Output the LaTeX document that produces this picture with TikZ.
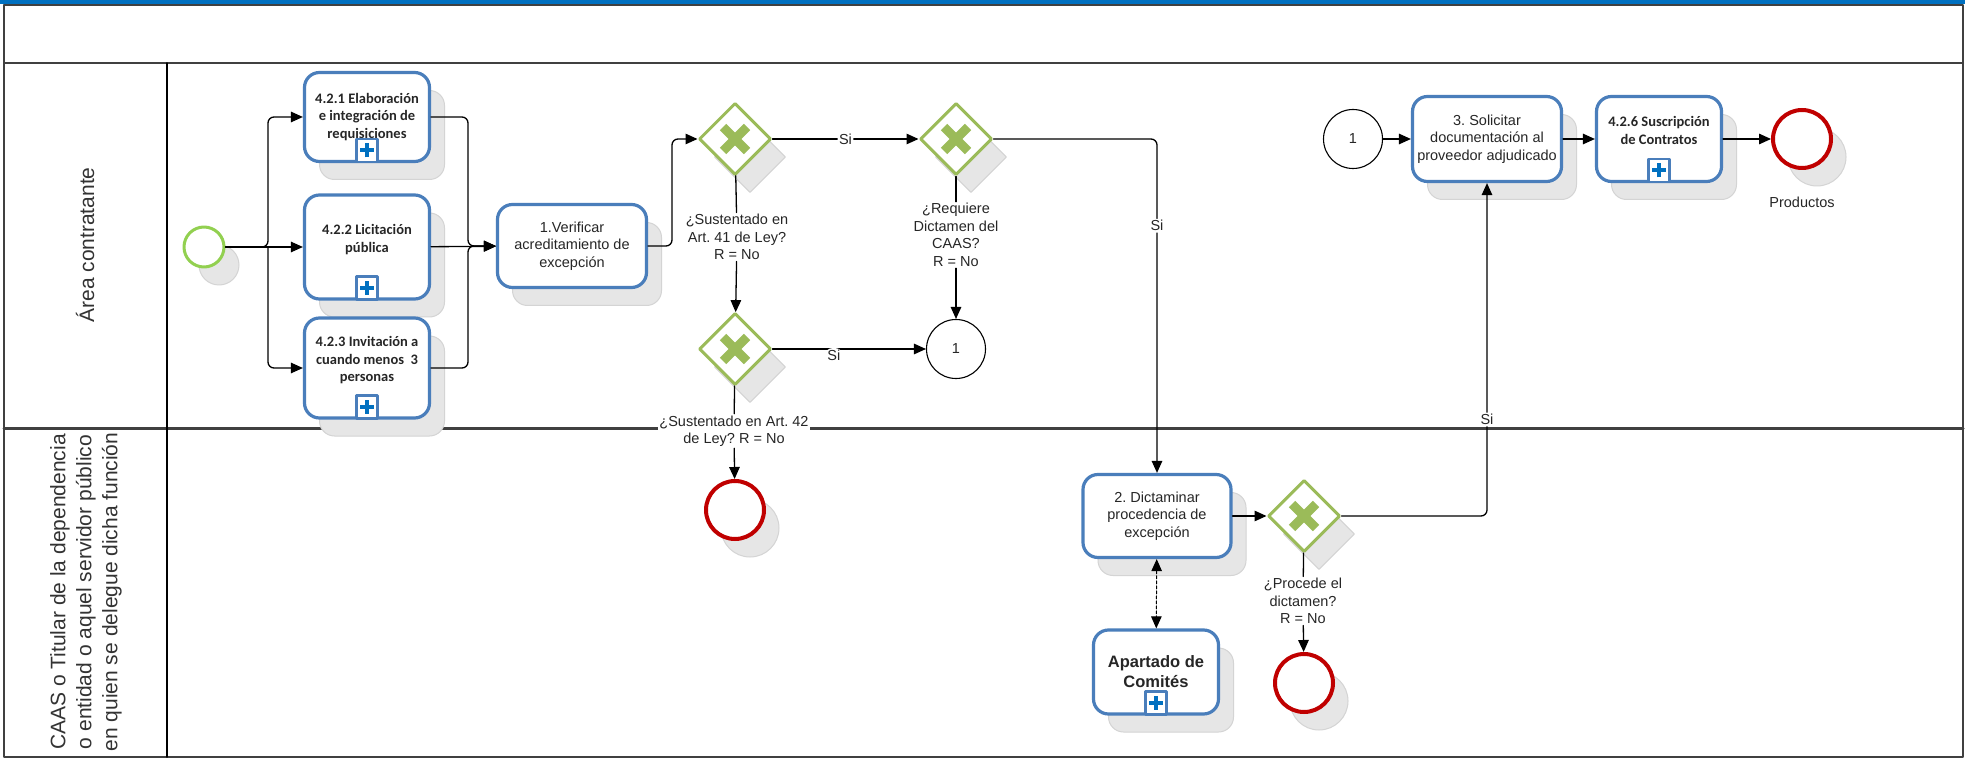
\documentclass[tikz,border=0pt]{standalone}
\usepackage{fontspec}
\setmainfont{Liberation Sans}
\newfontfamily\carlito{Carlito}
\frenchspacing
\usetikzlibrary{arrows.meta,shapes.geometric,shadows}
\definecolor{barblue}{HTML}{0070C0}
\definecolor{taskblue}{HTML}{4A7EBB}
\definecolor{gwgreen}{HTML}{9BBB59}
\definecolor{stgreen}{HTML}{92D050}
\definecolor{endred}{HTML}{C00000}
\definecolor{shgray}{HTML}{E6E6E6}
\definecolor{shedge}{HTML}{D4D4D4}
\definecolor{framegray}{HTML}{404040}
\begin{document}
\begin{tikzpicture}[x=1pt, y=-1pt, line join=round, line cap=round, >={Triangle[length=12pt,width=10.5pt]},
  txt/.style={font=\fontsize{14.5}{17.5}\selectfont, text=black!85, align=center, inner sep=1.5pt},
  sh/.style={drop shadow={shadow xshift=15pt, shadow yshift=-18pt, fill=shgray, draw=shedge, line width=1pt, opacity=1}},
  task/.style={txt, sh, rectangle, rounded corners=15pt, draw=taskblue, line width=3.2pt, fill=white},
  sub/.style={task, font=\carlito\bfseries\fontsize{14.5}{17.5}\selectfont},
  gw/.style={sh, diamond, aspect=1, minimum size=72pt, inner sep=0pt, draw=gwgreen, line width=3pt, fill=white},
  start/.style={sh, circle, minimum size=40pt, inner sep=0pt, draw=stgreen, line width=3pt, fill=white},
  endev/.style={sh, circle, minimum size=58pt, inner sep=0pt, draw=endred, line width=4pt, fill=white},
  link/.style={txt, circle, minimum size=59pt, inner sep=0pt, draw=black, line width=1.1pt, fill=white},
  lbl/.style={txt, fill=white},
  flow/.style={draw=black, line width=1.3pt, ->, rounded corners=6pt},
  plusbox/.style={rectangle, draw=taskblue, line width=2.5pt, fill=white, minimum width=21pt, minimum height=23pt, inner sep=0pt},
  plusline/.style={barblue, line width=4pt, line cap=butt},
  xcross/.style={gwgreen, line width=9pt, line cap=butt},
  lane/.style={font=\fontsize{21}{26}\selectfont, text=black!80, align=center, rotate=90}]
%Carriles
\fill[white] (0,0) rectangle (1965,759);
\useasboundingbox (0,0) rectangle (1965,759);
\fill[barblue] (0,0) rectangle (1965,4.5);
\draw[framegray, line width=2pt] (4,5) rectangle (1963,757);
\draw[framegray, line width=2pt] (4,63) -- (1963,63);
\draw[framegray, line width=3pt] (4,428) -- (1963,428);
\draw[black, line width=1.5pt] (167,63) -- (167,757);
\node[lane] (La) at (85,245) {Área contratante};
\node[lane] (Lb) at (86,592) {CAAS o Titular de la dependencia\\o entidad o aquel servidor público\\en quien se delegue dicha función};
%Nodos
\node[start] (S) at (204,247) {};
\node[sub, minimum width=125pt, minimum height=89pt] (A1) at (367,117) {4.2.1 Elaboración\\e integración de\\requisiciones};
\node[sub, minimum width=125pt, minimum height=104pt] (A2) at (367,247) {4.2.2 Licitación\\pública\\\mbox{}};
\node[sub, minimum width=125pt, minimum height=100pt] (A3) at (367,368) {4.2.3 Invitación a\\cuando menos~~3\\personas\\\mbox{}};
\node[task, minimum width=149pt, minimum height=83pt] (V) at (572,246) {1.Verificar\\acreditamiento de\\excepción};
\node[gw] (G1) at (735,139) {};
\node[gw] (G2) at (956,139) {};
\node[gw] (G3) at (735,349) {};
\node[link] (C1) at (956,349) {1};
\node[lbl] (L1) at (737,237) {¿Sustentado en\\Art. 41 de Ley?\\R = No};
\node[lbl] (L2) at (956,235) {¿Requiere\\Dictamen del\\CAAS?\\R = No};
\node[lbl] (L3) at (734,431) {¿Sustentado en Art. 42\\de Ley? R = No};
\node[endev] (E1) at (735,510) {};
\node[link] (C2) at (1353,139) {1};
\node[task, minimum width=149pt, minimum height=85pt] (Q) at (1487,139) {3. Solicitar\\documentación al\\proveedor adjudicado};
\node[sub, minimum width=125pt, minimum height=85pt] (K) at (1659,139) {4.2.6 Suscripción\\de Contratos\\\mbox{}};
\node[endev] (E3) at (1802,139) {};
\node[txt] (E3t) at (1802,202) {Productos};
\node[task, minimum width=148pt, minimum height=83pt] (D) at (1157,516) {2. Dictaminar\\procedencia de\\excepción};
\node[gw] (G4) at (1304,516) {};
\node[lbl] (L4) at (1303,601) {¿Procede el\\dictamen?\\R = No};
\node[endev] (E2) at (1304,683) {};
\node[task, font=\bfseries\fontsize{16.5}{20}\selectfont, minimum width=125pt, minimum height=84pt] (P) at (1156,672) {Apartado de\\Comités};
\foreach \n in {A1,A2,A3,K,P}{
  \node[plusbox, anchor=south] (m\n) at (\n.south) {};
  \draw[plusline] ([xshift=-7pt]m\n.center) -- ([xshift=7pt]m\n.center);
  \draw[plusline] ([yshift=-7pt]m\n.center) -- ([yshift=7pt]m\n.center);
}
\foreach \g in {G1,G2,G3,G4}{
  \draw[xcross] ([shift={(-12,-12)}]\g.center) -- ([shift={(12,12)}]\g.center);
  \draw[xcross] ([shift={(-12,12)}]\g.center) -- ([shift={(12,-12)}]\g.center);
}
%Conectores
\path (268,247) coordinate(F1)
(468,246) coordinate(F2)
(672,139) coordinate(F3)
;
\draw[flow] (S) -- (F1) |- (A1);
\draw[flow] (S) -- (A2);
\draw[flow] (F1) |- (A3);
\draw[flow] (A1) -| (F2) -- (V);
\draw[flow] (A2) -- (V);
\draw[flow] (A3) -| (F2) -- (V);
\draw[flow] (V) -| (F3) -- (G1);
\draw[flow] (G1) -- node[lbl]{Si} (G2);
\draw[flow] (G2) -| node[lbl, pos=0.63]{Si} (D);
\draw[flow, -] (G1) -- (L1);
\draw[flow] (L1) -- (G3);
\draw[flow, -] (G2) -- (L2);
\draw[flow] (L2) -- (C1);
\draw[flow] (G3) -- node[lbl, pos=0.4, yshift=-6pt]{Si} (C1);
\draw[flow, -] (G3) -- (L3);
\draw[flow] (L3) -- (E1);
\draw[flow] (C2) -- (Q);
\draw[flow] (Q) -- (K);
\draw[flow] (K) -- (E3);
\draw[flow] (D) -- (G4);
\draw[flow] (G4) -| node[lbl, pos=0.645]{Si} (Q);
\draw[flow, -] (G4) -- (L4);
\draw[flow] (L4) -- (E2);
\draw[flow, <->, line width=1pt, dash pattern=on 3pt off 2pt] (D) -- (P);
\end{tikzpicture}
\end{document}
